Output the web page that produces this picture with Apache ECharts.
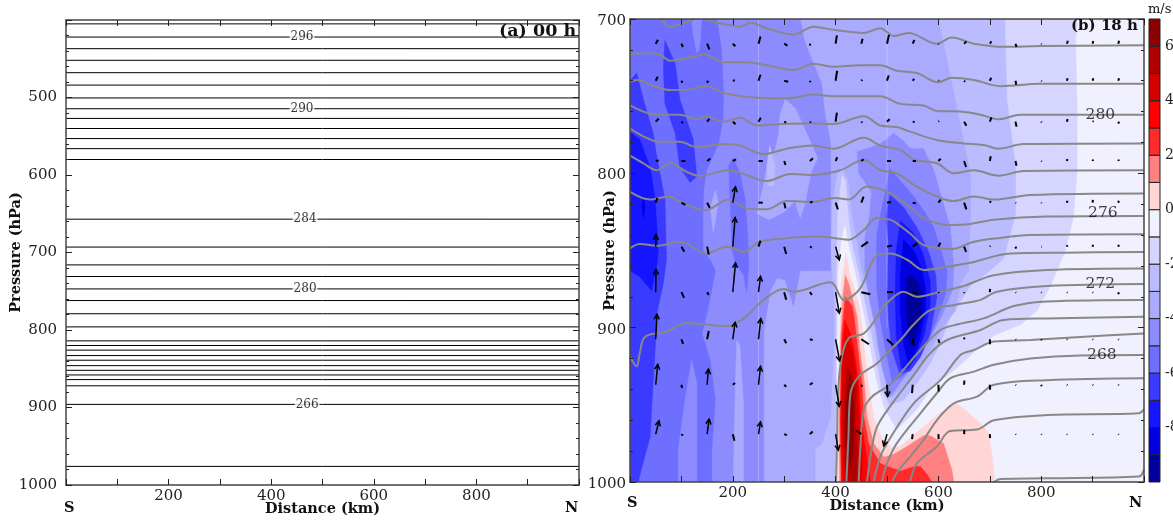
<!DOCTYPE html>
<html><head><meta charset="utf-8">
<style>html,body{margin:0;padding:0;background:#fff}#c{width:1173px;height:520px}</style>
<script src="https://cdn.jsdelivr.net/npm/echarts@6/dist/echarts.min.js"></script>
</head><body><div id="c"></div>
<script>
// ---------- panel (a): 00 h isentropes (hPa) ----------
const isobarsA=[405,422,437,452,468,484,500.6,514.5,527,540,553,566,580,657,693,716,731,747,762,779,796,814,820,826,833,839,846,852,858,864,872,896,976];
const labelsA=[[460,422,'296'],[460,514.5,'290'],[466,657,'284'],[466,747,'280'],[470,896,'266']];
// ---------- panel (b): wind-speed band outlines [km,hPa] ----------
const levelN1=[[0,700],[870,700],[867,716],[870,761],[870,796],[863,828],[847,850],[818,873],[792,889],[760,898],[708,905],[675,914],[643,924],[617,931],[584,940],[558,953],[519,966],[495,952],[481,936],[468,914],[458,895],[438,863],[425,845],[418,832],[410,845],[404,863],[403,900],[400,1000],[0,1000]];
const levelN2=[[0,700],[729,700],[733,752],[750,796],[750,826],[727,855],[701,863],[662,873],[623,893],[604,910],[584,923],[558,936],[532,947],[505,950],[490,940],[476,914],[465,895],[445,863],[432,845],[425,825],[420,805],[412,800],[403,825],[401,860],[400,1000],[0,1000]];
const levelN3=[[0,700],[599,700],[610,716],[626,742],[646,774],[662,800],[663,828],[659,850],[659,863],[643,871],[633,889],[610,899],[584,914],[558,927],[532,938],[510,945],[495,930],[482,914],[470,884],[451,863],[440,840],[431,825],[425,805],[412,795],[402,802],[393,820],[390,850],[396,880],[396,914],[390,958],[373,975],[360,979],[360,1000],[0,1000]];
const spotN2=[[321,1000],[326,990],[331,1000]];
const westN4=[[0,700],[331,700],[339,714],[357,729],[373,742],[378,759],[390,780],[390,863],[331,863],[318,886],[302,869],[286,868],[273,876],[260,902],[260,1000],[0,1000]];
const lobeN3a=[[302,752],[322,758],[345,775],[365,790],[352,800],[340,820],[331,829],[321,818],[300,825],[270,830],[247,826],[258,810],[270,790],[282,785],[289,775],[292,762]];
const lobeN3b=[[201,1000],[205,936],[208,908],[214,912],[221,950],[221,1000]];
const lobeN3c=[[166,811],[172,819],[162,838],[156,822]];
const lobeN2a=[[272,782],[282,795],[280,808],[268,808],[266,795]];
const blobN4=[[513,774],[532,779],[545,784],[571,784],[591,798],[604,813],[623,835],[630,860],[628,875],[606,893],[578,910],[555,923],[532,933],[506,945],[490,925],[478,900],[467,884],[457,863],[457,841],[466,828],[470,812],[445,800],[442,786],[470,783],[487,781]];
const westN5=[[0,700],[169,700],[178,720],[182,748],[181,765],[172,781],[149,798],[143,811],[142,828],[142,850],[156,856],[166,863],[153,886],[140,904],[156,921],[166,947],[159,979],[159,1000],[0,1000]];
const streakN4a=[[120,700],[140,700],[135,720],[130,722],[123,710]];
const streakN4b=[[120,921],[130,936],[130,1000],[94,1000],[94,979],[107,947]];
const colN5=[[201,790],[214,800],[224,817],[229,839],[231,860],[227,877],[221,866],[205,858],[199,850],[195,820],[192,795]];
const blobN5=[[506,797],[552,815],[571,824],[591,835],[610,856],[617,863],[614,878],[597,895],[575,912],[552,924],[529,932],[510,935],[497,914],[487,895],[480,874],[480,839],[490,823]];
const westN6=[[0,740],[13,735],[26,752],[45,774],[52,789],[68,817],[71,856],[65,871],[52,891],[49,914],[45,936],[39,971],[21,993],[16,1000],[0,1000]];
const colN6=[[68,714],[88,729],[97,752],[123,778],[130,802],[117,806],[97,796],[88,774],[68,755],[65,731]];
const blobN6=[[506,814],[532,822],[558,835],[580,850],[595,866],[597,880],[584,904],[565,919],[545,928],[525,930],[510,915],[503,895],[500,878],[503,845],[498,828]];
const westN7=[[0,774],[3,774],[19,778],[39,796],[49,817],[55,850],[52,860],[42,876],[19,867],[0,863]];
const blobN7=[[526,831],[550,838],[570,852],[584,870],[584,885],[572,905],[555,920],[540,927],[528,926],[518,905],[516,876],[518,850]];
const westN8=[[26,815],[29,822],[26,829],[23,822]];
const blobN8=[[532,843],[552,850],[568,862],[575,875],[575,888],[563,908],[550,921],[542,923],[533,912],[526,890],[526,865]];
const blobN9=[[545,865],[562,871],[568,878],[568,891],[558,904],[552,911],[544,911],[539,893],[538,876],[539,868]];
const redP0=[[420,852],[428,866],[445,884],[449,893],[456,914],[464,936],[474,958],[490,972],[510,978],[526,977],[565,966],[604,955],[636,949],[675,960],[698,968],[705,985],[709,1000],[405,1000],[404,958],[409,893],[412,871]];
const redP1=[[419,866],[426,872],[435,884],[442,893],[447,914],[456,936],[461,958],[474,975],[494,984],[513,982],[539,977],[571,970],[584,970],[610,975],[626,992],[630,1000],[408,1000],[407,960],[410,905],[414,880]];
const redP2=[[419,880],[432,886],[436,893],[443,914],[451,936],[455,958],[464,975],[487,988],[526,993],[553,990],[565,990],[578,995],[587,1000],[411,1000],[409,960],[412,905]];
const redP3=[[418,895],[429,904],[436,914],[445,936],[449,958],[458,979],[464,992],[468,1000],[412,1000],[410,960],[412,915]];
const redP4=[[420,905],[432,914],[442,936],[445,958],[451,979],[451,1000],[415,1000],[412,960],[414,925]];
const redP5=[[423,925],[438,936],[438,958],[442,979],[440,1000],[420,1000],[416,960]];
const redP6=[[428,930],[435,950],[435,975],[430,990],[422,985],[420,950]];
// colour of each interval, from [-10,-9] up to [6,7]
const bandLows=[-10,-9,-8,-7,-6,-5,-4,-3,-2,-1,0,1,2,3,4,5,6];
const bandColors=['#00009b','#0000e0','#1515ff','#3b3bff','#6e6eff','#8c8cff','#aaaaff','#bbbbff','#d5d5ff','#f0f0ff','#ffd5d5','#ff8080','#ff2a2a','#ff0000','#d40000','#b00000','#8b0000'];
const colorOf=l=>bandColors[bandLows.indexOf(l)];
const bands=[[-2,levelN1],[-3,levelN2],[-2,spotN2],[-4,levelN3],[-5,westN4],[-4,lobeN3a],[-4,lobeN3b],[-4,lobeN3c],[-3,lobeN2a],[-5,blobN4],[-6,westN5],[-5,streakN4a],[-5,streakN4b],[-6,colN5],[-6,blobN5],[-7,westN6],[-7,colN6],[-7,blobN6],[-8,westN7],[-8,blobN7],[-9,westN8],[-9,blobN8],[-10,blobN9],[0,redP0],[1,redP1],[2,redP2],[3,redP3],[4,redP4],[5,redP5],[6,redP6]];
// ---------- panel (b): isentropes [km,hPa] ----------
const th1a=[[60,700],[65,701],[75,705],[91,704],[117,701],[125,700]];
const th1b=[[146,700],[162,702],[188,703.5],[214,705],[234,702.5],[266,706],[318,710],[357,705],[396,707],[455,709],[487,706],[513,711],[542,709],[597,716],[626,712],[669,716],[727,718],[798,717.5],[1000,717]];
const th2=[[0,723],[39,722],[58,723],[78,727],[117,725],[146,723],[182,728],[227,728],[266,730],[318,733],[357,729],[396,731],[448,730],[487,730],[519,733.5],[558,735],[600,741],[626,738],[669,739.5],[721,743.5],[798,742],[1000,742]];
const th3=[[0,740.6],[13,739.5],[45,743.4],[78,746],[117,745.6],[149,743.4],[182,748],[247,751],[305,751.4],[357,749],[396,750],[455,750],[487,750],[526,755],[571,756],[597,759.6],[643,760],[682,762],[717,765],[760,762],[876,762],[1000,762]];
const th4=[[0,756],[26,760],[52,762],[97,762],[130,765],[149,763],[182,766.5],[214,764],[247,769],[299,768],[357,767.6],[396,768],[455,763],[487,769],[519,770],[545,773],[597,778.4],[649,780.6],[688,781.6],[717,784],[766,781],[1000,780.6]];
const th5=[[0,771],[26,776],[55,779.5],[97,779.5],[130,783],[182,781],[214,782],[260,787.5],[305,784],[357,782],[396,784],[455,777],[487,782],[526,785],[552,791],[597,793.5],[630,800],[669,798],[717,801.5],[766,798.5],[1000,798]];
const th6=[[0,788.6],[26,793.5],[52,798],[78,793.5],[110,799],[136,801.7],[191,798],[221,800.4],[266,805],[312,800.4],[357,801],[409,798],[455,791.4],[487,798],[519,800],[558,808.6],[597,815],[630,818],[669,815],[708,817],[779,814],[1000,813]];
const th7=[[0,812],[39,817],[75,815],[104,819.4],[146,824],[192,817],[227,822.7],[266,823.3],[305,818],[357,818.4],[399,816],[425,817],[461,808.6],[506,813],[552,823.8],[571,829],[617,833.5],[662,832.8],[708,830],[811,828],[1000,827.6]];
const th8=[[0,848.6],[19,845.8],[52,846.9],[97,844.3],[149,851.8],[188,847.5],[221,850.8],[253,844.3],[305,842],[364,841],[399,842],[425,843],[455,836.7],[480,829],[506,830],[519,832.4],[545,839],[571,846.4],[626,849],[669,844.3],[714,842],[779,840],[1000,839.5]];
const th9=[[0,918.8],[13,925],[19,916.6],[29,906],[71,902.6],[110,897],[188,899],[221,894],[260,882],[299,875],[318,876.7],[390,870.6],[416,882],[448,874.5],[481,853],[506,852],[539,856],[571,862.6],[617,860.5],[662,858],[740,852],[844,851.4],[1000,851]];
const th10=[[401,1000],[403,970.6],[404,949],[410,923],[425,907],[455,903.7],[481,893],[487,889],[513,880],[532,876.7],[558,880],[604,876.7],[649,873],[708,866],[811,862.6],[1000,861.6]];
const th11=[[421,1000],[425,970.6],[429,942.5],[445,931.7],[481,923],[506,914.5],[526,908],[552,898],[584,888.6],[636,885],[682,882],[714,876.7],[811,873],[1000,871.7]];
const th12=[[445,1000],[448,979],[455,953],[471,944.7],[506,937],[526,929.6],[565,914.5],[604,901.5],[636,898],[688,894],[747,886],[811,883],[1000,882]];
const th13=[[461,1000],[471,977],[481,964],[506,951],[552,930.7],[584,916.6],[617,908],[682,901.5],[727,895],[811,894],[1000,893]];
const th14=[[474,1000],[487,983.6],[506,971.7],[552,949],[604,934],[643,917.7],[669,914.5],[708,909],[779,908],[876,906],[1000,903.7]];
const th15=[[490,1000],[500,988],[519,975],[565,955.5],[597,942.5],[623,932.8],[669,928.5],[708,924],[779,920],[876,918],[1000,917.7]];
const th16=[[510,1000],[519,994],[545,983.6],[571,972.8],[597,960],[630,949],[675,944.7],[708,937],[811,934],[1000,932.8]];
const th17=[[545,1000],[558,988],[597,977],[623,967],[675,966],[708,960],[811,956.6],[990,955.5],[1000,953]];
const th18=[[708,1000],[721,998],[811,997.6],[990,996.5],[1000,992]];
const isentropes=[th1a,th1b,th2,th3,th4,th5,th6,th7,th8,th9,th10,th11,th12,th13,th14,th15,th16,th17,th18];
const labelsB=[[915,762,'280'],[920,826,'276'],[915,871.5,'272'],[918,918,'268']];
// ---------- panel (b): wind vectors, tails on a grid, [u,w] in vector units ----------
const vecCols=[50,100,150,200,250,300,350,400,450,500,550,600,650,700,750,800,850,900,950];
const vecRows=[716,740,766.5,792,819,847.5,877,907.5,937,969];
const vec716=[[2.3,4],[1.5,-3.3],[2.3,-5.6],[2.6,-2.6],[2,7.3],[3.3,-2],[.3,-2],[1.3,8.3],[1.3,5],[2,9],[1.7,3.7],[.5,-.5],[2.3,2.3],[1.7,2.3],[1,-3.3],[.5,-.5],[1,3],[.7,2.7],[.7,3]];
const vec740=[[2,4],[1,-2],[1,-2],[2,.5],[2,6],[4,-1],[.5,-1.5],[1.5,10],[1,1],[1.7,5.3],[1.5,2],[.5,.5],[1,-1],[1.5,3],[.7,-4],[.5,-.5],[.7,2.5],[.7,2.5],[.7,2.5]];
const vec766=[[3,3],[1.5,-1.5],[2.3,2.7],[2.7,-2.7],[2.3,4],[2,-1],[1,-1],[1.3,9],[1,-1],[2.7,2.3],[2,-.5],[.7,.7],[2.3,-4],[1.7,4.3],[1,-5],[.5,-.7],[.7,2.7],[1,.5],[.7,-2]];
const vec792=[[3,.5],[4,0],[3.3,2.3],[3.3,1.7],[4.3,0],[1.3,-4],[3,2.7],[1.7,3.7],[2.3,1.7],[4,0],[3.3,0],[2.3,2.3],[2,-6],[1,4.7],[1,-4.7],[.5,-.5],[.5,2],[.5,1.5],[.5,1.5]];
const vec819=[[1.7,4.7],[4,-2.3],[2.7,-5],[2.7,15.7],[4.3,0],[1.3,-5.7],[2.7,1],[2.3,-6.7],[2.3,6],[4,.7],[3.3,-.7],[2.3,3],[2.3,-6.7],[1,1.7],[.5,-.5],[.5,-.5],[.5,2],[.3,2.7],[.5,2]];
const vec847=[[.3,12],[3,-5],[1.7,-8],[2.3,29],[2,6],[2,-7.3],[2,-1],[3.7,-13.3],[6.7,4.7],[5,1],[4.3,3.3],[2,4],[2,-5.3],[.7,.7],[.7,-2],[.5,0],[.5,1.5],[.5,2],[.5,2]];
const vec877=[[.3,22.7],[2.7,-5.7],[1.7,-2.7],[2.7,29.3],[2,15.7],[2,-7.7],[2,-2.7],[3.7,-21],[9,-2],[6,0],[5,-1.7],[.5,-1],[.3,-1],[.3,3.3],[.5,-.5],[.5,-.5],[.5,-.5],[.5,-.5],[.5,-2]];
const vec907=[[1.3,25],[1.7,-4.7],[1.7,8.3],[2.3,17],[2.3,20.7],[2,-4],[2.7,-.7],[4,-21.7],[7.7,-5],[6,-5.7],[1,-6.7],[1,-3.7],[.3,1.7],[.3,-5],[.5,-.5],[.5,-1],[.5,-.5],[.5,-.5],[.5,-.5]];
const vec937=[[2,20.3],[.7,-3.3],[1.3,15.7],[2.3,1.7],[2,18.3],[2,-2],[2.7,2],[3.7,-21.7],[.7,-2],[.7,-11.7],[-.7,-8.3],[.3,-6.7],[.3,4.3],[.3,-5],[.5,-.5],[.5,-1.5],[.5,-.5],[.5,-.5],[.5,-.5]];
const vec969=[[3.3,13.3],[1.5,-1.5],[2,15],[1.7,-6.7],[2,12.3],[2.7,-1],[2.7,2.7],[2.7,-16],[-5,3.7],[-3.3,-11.7],[-.7,-5],[.3,-5],[.3,4.3],[.3,-4],[.5,-.5],[.5,-.5],[.5,-.5],[.5,-.5],[.5,-.5]];
const vecTable=[vec716,vec740,vec766,vec792,vec819,vec847,vec877,vec907,vec937,vec969];
const seamKm=[250,500];
const kmTicks=['200','400','600','800'];

const serif="'DejaVu Serif'";
const frame={lineStyle:{color:'#444',width:1.5}};
function xAxis(grid,pos,name){return {type:'value',gridIndex:grid,position:pos,min:0,max:1000,interval:100,z:10,
  axisLine:{show:true,onZero:false,...frame},axisTick:{show:true,inside:true,length:6,lineStyle:{color:'#222',width:1}},
  splitLine:{show:false},
  axisLabel:{show:pos==='bottom',margin:4,fontFamily:serif,fontSize:15,color:'#222',showMinLabel:true,showMaxLabel:true,
    formatter:v=>kmTicks.includes(String(v))?String(v):''},
  ...(name?{name:name,nameLocation:'middle',nameMoveOverlap:false,nameGap:17,nameTextStyle:{fontFamily:serif,fontWeight:'bold',fontSize:14.5,color:'#111'}}:{})};}
function yAxis(grid,pos,min,name,hide,margin){return {type:'value',gridIndex:grid,position:pos,min:min,max:1000,interval:100,inverse:true,z:10,
  axisLine:{show:true,onZero:false,...frame},axisTick:{show:true,inside:true,length:6,lineStyle:{color:'#222',width:1}},
  minorTick:{show:true,splitNumber:5,length:3,lineStyle:{color:'#222',width:1}},
  splitLine:{show:false},minorSplitLine:{show:false},
  axisLabel:{show:pos==='left',margin:margin,fontFamily:serif,fontSize:15,color:'#222',
    formatter:v=>v===hide?'':(grid===1?'{a|'+v+'}':String(v)),rich:{a:{fontFamily:serif,fontSize:15,color:'#222',padding:[4,0,0,0]}}},
  ...(name?{name:name,nameLocation:'middle',nameMoveOverlap:false,nameRotate:90,nameGap:grid===0?42:12,nameTextStyle:{fontFamily:serif,fontWeight:'bold',fontSize:14.5,color:'#111'}}:{})};}

const vecData=[];
vecRows.forEach((p,i)=>vecCols.forEach((km,j)=>vecData.push([km,p,vecTable[i][j][0],vecTable[i][j][1]])));

const series=[];
isobarsA.forEach(p=>series.push({type:'line',xAxisIndex:0,yAxisIndex:0,data:[[0,p],[1000,p]],showSymbol:false,silent:true,z:3,lineStyle:{color:'#000',width:1}}));
series.push({type:'scatter',xAxisIndex:0,yAxisIndex:0,data:labelsA,symbolSize:0,silent:true,z:5,
  label:{show:true,position:'inside',formatter:o=>o.value[2],fontFamily:serif,fontSize:12,color:'#000',backgroundColor:'#fff',padding:[0,1]}});
series.push({type:'custom',xAxisIndex:2,yAxisIndex:2,data:bands.map((b,i)=>[i]),silent:true,z:1,clip:true,
  encode:{x:[],y:[]},
  renderItem:(params,api)=>{const b=bands[params.dataIndex];const c=colorOf(b[0]);
    return {type:'polygon',shape:{points:b[1].map(pt=>api.coord(pt))},style:{fill:c,stroke:c,lineWidth:.5}};}});
seamKm.forEach(km=>series.push({type:'line',xAxisIndex:2,yAxisIndex:2,data:[[km,700],[km,km===500?900:1000]],showSymbol:false,silent:true,z:2,lineStyle:{color:'rgba(255,255,255,.25)',width:1}}));
isentropes.forEach(t=>series.push({type:'line',xAxisIndex:2,yAxisIndex:2,data:t,showSymbol:false,silent:true,smooth:.35,z:3,clip:true,lineStyle:{color:'#888',width:2}}));
series.push({type:'custom',xAxisIndex:2,yAxisIndex:2,data:vecData,silent:true,z:4,clip:false,encode:{x:0,y:1},
  renderItem:(params,api)=>{const t=api.coord([api.value(0),api.value(1)]);const dx=api.value(2),dy=-api.value(3);
    const L=Math.hypot(dx,dy);const tip=[t[0]+dx,t[1]+dy];const kids=[{type:'polyline',shape:{points:[t,tip]},style:{stroke:'#000',lineWidth:L>12?1.5:2,fill:null}}];
    if(L>11){const ux=dx/L,uy=dy/L,h=5,w=2.6;
      kids.push({type:'polyline',shape:{points:[[tip[0]-ux*h-uy*w,tip[1]-uy*h+ux*w],tip,[tip[0]-ux*h+uy*w,tip[1]-uy*h-ux*w]]},style:{stroke:'#000',lineWidth:1.5,fill:null}});}
    return {type:'group',children:kids};}});
series.push({type:'scatter',xAxisIndex:2,yAxisIndex:2,data:labelsB,symbolSize:0,silent:true,z:5,
  label:{show:true,position:'inside',formatter:o=>o.value[2],fontFamily:serif,fontSize:15.5,color:'#111'}});
series.push({type:'custom',xAxisIndex:4,yAxisIndex:4,data:bandLows.map(l=>[l]),silent:true,z:3,encode:{x:[],y:0},
  renderItem:(params,api)=>{const l=bandLows[params.dataIndex];const a=api.coord([0,l+1]),b=api.coord([1,l]);
    return {type:'rect',shape:{x:a[0],y:a[1],width:b[0]-a[0],height:b[1]-a[1]},style:{fill:bandColors[params.dataIndex],stroke:'#222',lineWidth:1}};}});

const txt=(l,t,s,size,weight,align)=>({type:'text',left:l,top:t,z:20,style:{text:s,fontFamily:serif,fontSize:size,fontWeight:weight||'normal',fill:'#111',textAlign:align||'left'}});

const chart=echarts.init(document.getElementById('c'),null,{renderer:'canvas',width:1173,height:520});
chart.setOption({animation:false,backgroundColor:'#fff',
  grid:[{left:66,top:20,width:513,height:465,outerBoundsMode:'none'},{left:630,top:19,width:514,height:463,show:true,backgroundColor:'#f0f0ff',borderWidth:0,outerBoundsMode:'none'},{left:1149,top:19,width:11,height:463,outerBoundsMode:'none'}],
  xAxis:[xAxis(0,'bottom','Distance (km)'),xAxis(0,'top'),xAxis(1,'bottom','Distance (km)'),xAxis(1,'top'),
    {type:'value',gridIndex:2,min:0,max:1,show:false}],
  yAxis:[yAxis(0,'left',400,'Pressure (hPa)',400,9),yAxis(0,'right',400),yAxis(1,'left',700,'Pressure (hPa)',-1,4),yAxis(1,'right',700),
    {type:'value',gridIndex:2,position:'right',min:-10,max:7,interval:2,axisLine:{show:false},axisTick:{show:false},splitLine:{show:false},
     axisLabel:{margin:5,fontFamily:serif,fontSize:14,color:'#222',formatter:v=>(v===-10||v===7)?'':String(v)}}],
  series:series,
  graphic:[txt(64,501,'S',14.5,'bold'),txt(565,501,'N',14.5,'bold'),txt(627,496,'S',14.5,'bold'),txt(1129,496,'N',14.5,'bold'),
    txt(499,22,'(a) 00 h',17.5,'bold'),txt(1071,19,'(b) 18 h',15,'bold'),txt(1148,3,'m/s',13)]
});
</script></body></html>
